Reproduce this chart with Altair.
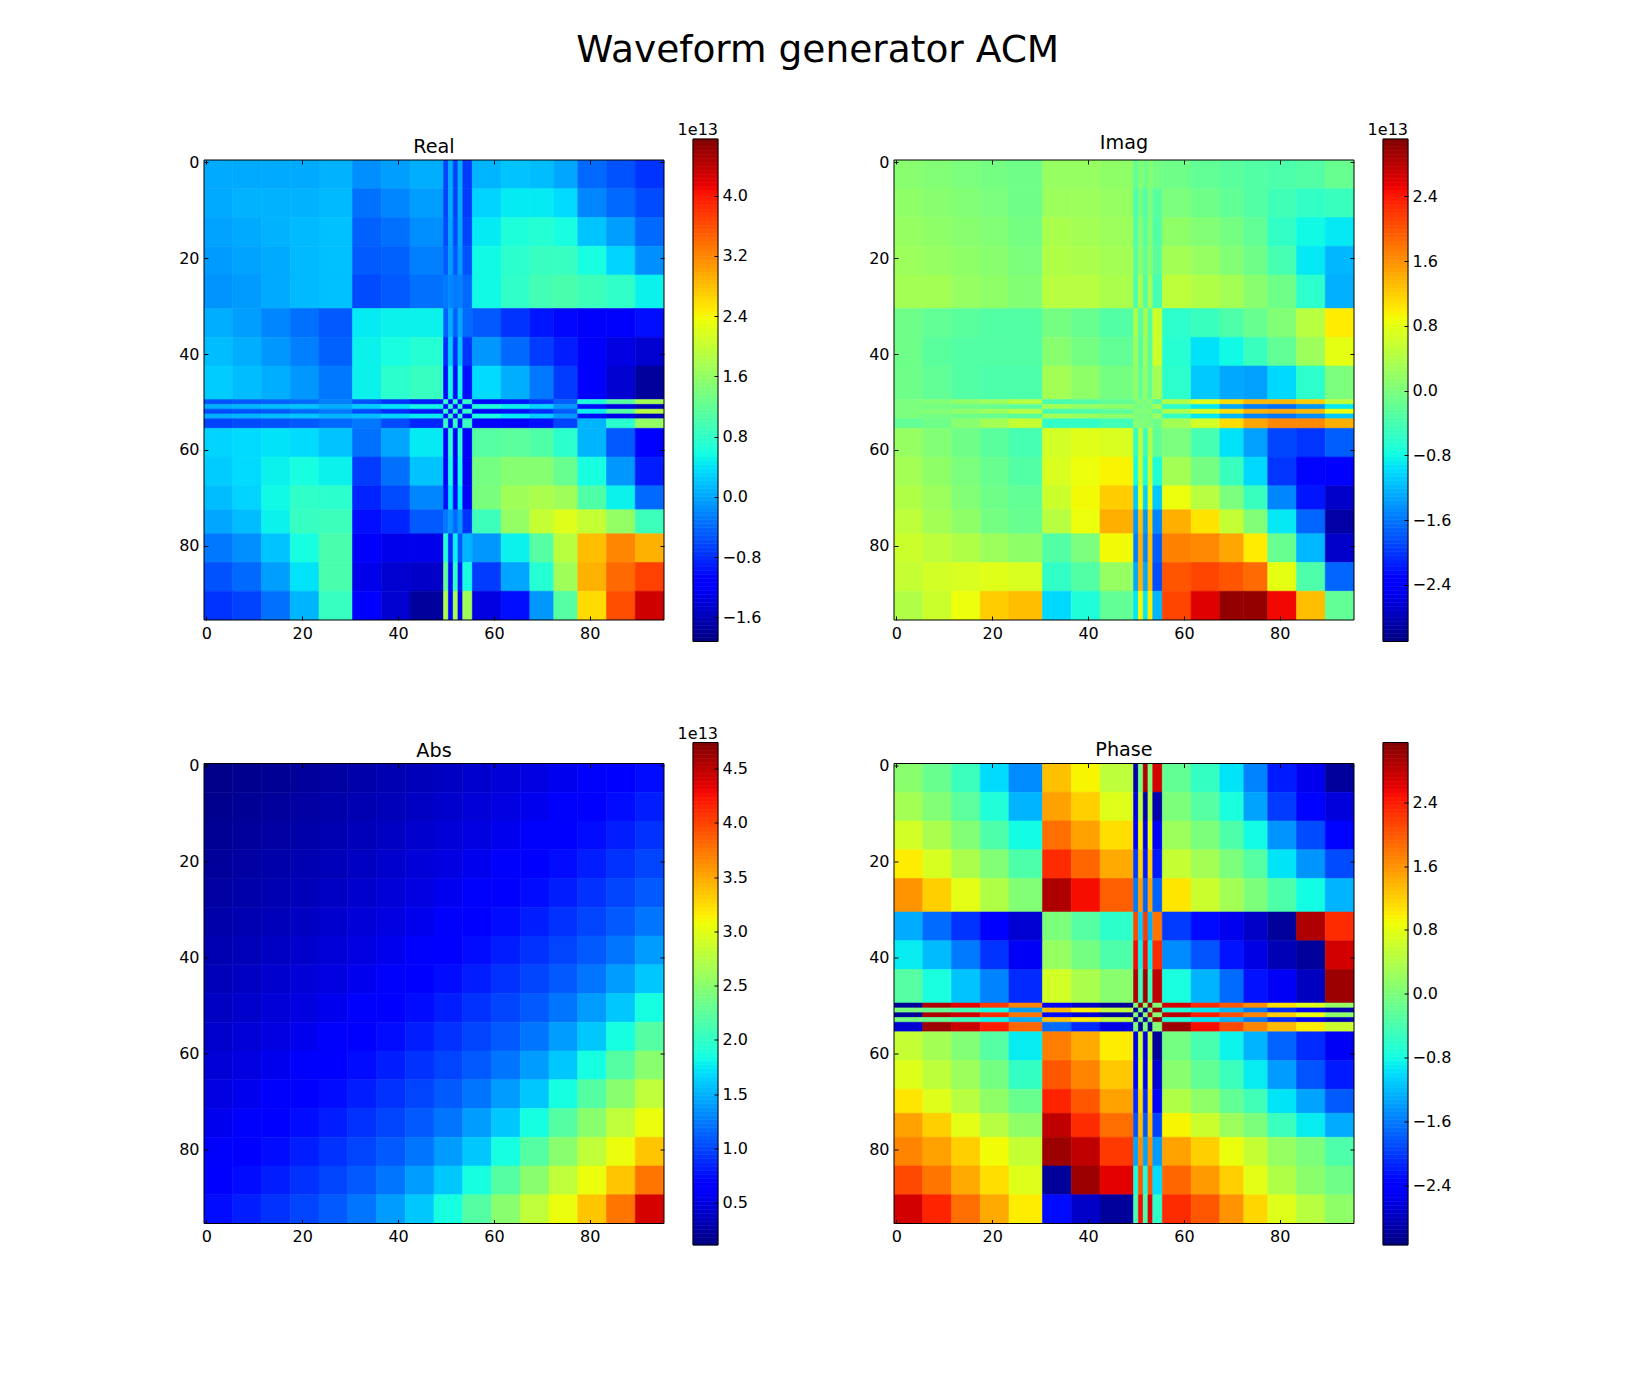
import numpy as np
import altair as alt

TITLE = "Waveform generator ACM"
FONT = "DejaVu Sans"

# cell edges (matrix index space) of the grid the colours were read on
EDGES = [-0.5, 5.5, 11.5, 17.5, 23.5, 30.5, 36.5, 42.5, 49.5, 50.5, 51.5, 52.5, 53.5, 55.5,
         61.5, 67.5, 72.5, 77.5, 83.5, 89.5, 95.5]
ABS_EDGES = [-0.5, 5.5, 11.5, 17.5, 23.5, 29.5, 35.5, 41.5, 47.5, 53.5, 59.5, 65.5, 71.5, 77.5,
             83.5, 89.5, 95.5]

REAL = [
 [.03,.03,.03,.03,.08, -.15,-.05,.05, -.65,.05,-.65,.05,-.7, .1,.2,.15,.0, -.4,-.55,-.75],
 [.03,.08,.08,.08,.13, -.35,-.2,-.05, -.65,.05,-.65,.05,-.7, .3,.45,.45,.35, -.2,-.4,-.6],
 [-.02,.03,.08,.13,.18, -.45,-.35,-.15, -.6,.0,-.6,.0,-.65, .45,.65,.7,.6, .2,-.05,-.4],
 [-.07,-.02,.03,.13,.18, -.5,-.45,-.25, -.5,-.05,-.5,-.05,-.55, .55,.75,.85,.85, .6,.3,-.15],
 [-.12,-.07,.03,.13,.18, -.6,-.5,-.35, -.3,-.2,-.3,-.25,-.4, .55,.8,.95,1.0, .9,.8,.5],
 [.05,-.05,-.2,-.35,-.5, .45,.5,.5, -.45,.05,-.45,.0,-.4, -.5,-.75,-.95,-1.05, -1.2,-1.2,-1.0],
 [.15,.05,-.1,-.25,-.45, .5,.6,.7, -.8,.25,-.8,.2,-.75, -.1,-.4,-.7,-.9, -1.2,-1.35,-1.45],
 [.25,.15,.05,-.1,-.3, .5,.75,.85, -1,.55,-1,.55,-1, .35,.05,-.3,-.7, -1.15,-1.45,-1.75],
 [-.55,-.5,-.45,-.4,-.25, -.55,-.75,-.9, .8,-1,.8,-1,.8, -1.05,-.95,-.75,-.45, .65,1.1,1.75],
 [.05,.1,.15,.2,.05, .25,.4,.55, -1,.8,-1,.8,-1, .65,.5,.3,-.1, -1.0,-1.35,-1.6],
 [-.6,-.55,-.5,-.4,-.3, -.6,-.8,-.95, .8,-1,.8,-1,.8, -1.1,-1,-.8,-.5, .5,1.1,1.9],
 [.05,.1,.15,.2,.1, .15,.3,.45, -1,.8,-1,.8,-1, .6,.45,.25,-.1, -1,-1.3,-1.6],
 [-.65,-.6,-.55,-.5,-.4, -.3,-.6,-.85, .85,-1,.85,-1,.85, -1.15,-1.15,-1.0,-.65, .1,.75,1.6],
 [.3,.35,.4,.35,.2, -.35,.0,.45, -1.1,.75,-1.1,.75,-1.2, 1.1,1.15,1.05,.75, .1,-.5,-1.15],
 [.25,.35,.5,.6,.5, -.7,-.35,.2, -1.15,.6,-1.15,.6,-1.25, 1.35,1.5,1.5,1.25, .6,-.1,-.9],
 [.15,.3,.55,.8,.75, -.85,-.6,-.2, -1.0,.4,-1.0,.45,-1.2, 1.4,1.7,1.8,1.7, 1.05,.5,-.4],
 [.0,.15,.5,.85,.9, -1,-.85,-.5, -.3,-.1,-.4,-.1,-.75, .9,1.6,2.0,2.2, 2.0,1.6,.9],
 [-.3,-.15,.2,.6,1.0, -1.2,-1.3,-1.3, .7,-.8,.5,-.5,.1, -.1,.5,1.1,1.9, 2.8,3.2,2.9],
 [-.55,-.4,-.05,.4,1.0, -1.3,-1.45,-1.5, 1.2,-1,.8,-.9,.6, -.7,.0,.7,1.7, 2.9,3.4,3.7],
 [-.75,-.65,-.35,.1,.85, -1.1,-1.45,-1.75, 1.8,-1.1,1.75,-1.1,1.7, -1.35,-1,-.1,1.1, 2.6,3.6,4.3],
]

IMAG = [
 [.1,.05,0,-.05,-.1, .2,.2,.15, -.2,.05,-.1,.05,-.05, -.1,-.2,-.25,-.3, -.35,-.3,-.15],
 [.15,.1,.05,0,-.1, .25,.25,.2, -.35,-.05,-.3,0,-.25, 0,-.1,-.2,-.3, -.45,-.55,-.5],
 [.2,.15,.1,.05,-.05, .35,.3,.25, -.3,.05,-.25,.05,-.3, .15,.05,-.05,-.2, -.55,-.8,-.9],
 [.25,.2,.15,.1,0, .4,.35,.3, -.25,.1,-.2,.1,-.25, .3,.2,.05,-.1, -.4,-.9,-1.2],
 [.3,.3,.2,.15,.05, .45,.45,.35, -.35,.35,-.3,.3,-.4, .5,.4,.3,.1, -.1,-.6,-1.25],
 [-.1,-.2,-.25,-.3,-.3, -.05,-.15,-.3, .35,-.3,.3,-.25,.6, -.6,-.5,-.35,-.15, .05,.45,1.0],
 [-.1,-.25,-.3,-.3,-.3, .1,-.05,-.2, .25,-.3,.25,-.25,.6, -.65,-.95,-.8,-.5, -.2,.25,.8],
 [-.1,-.2,-.3,-.35,-.35, .3,.15,-.05, .15,-.2,.15,-.2,.3, -.6,-1.1,-1.3,-1.35, -1.0,-.6,.0],
 [0,.05,.15,.25,.45, -.4,-.3,-.2, -.05,.1,-.05,.1,-.3, .4,.75,1.1,1.35, 1.35,1.2,.5],
 [0,-.05,-.1,-.15,-.25, .3,.2,.15, 0,-.05,0,-.05,.3, -.6,-.9,-1.3,-1.55, -1.65,-1.4,-.9],
 [0,.05,.15,.25,.45, -.4,-.35,-.25, 0,.05,0,.1,-.2, .35,.7,1.1,1.4, 1.45,1.35,.85],
 [0,-.05,-.1,-.15,-.25, .3,.25,.15, .05,-.05,0,-.05,.25, -.55,-.9,-1.2,-1.5, -1.6,-1.45,-1.1],
 [-.2,-.1,.1,.3,.55, -.55,-.55,-.45, .1,.0,.05,0,-.1, .3,.65,1.1,1.45, 1.65,1.65,1.4],
 [.2,.05,-.1,-.25,-.4, .65,.75,.7, -.55,.45,-.5,.4,-.2, .0,-.4,-.95,-1.35, -1.9,-2.0,-1.75],
 [.3,.15,.0,-.15,-.3, .7,.85,.95, -.75,.6,-.75,.6,-.7, .3,-.05,-.5,-1.0, -2.0,-2.3,-2.4],
 [.4,.25,.05,-.1,-.2, .6,.9,1.2, -1.1,.85,-1.05,.85,-1.1, .85,.45,.0,-.5, -1.5,-2.2,-2.7],
 [.5,.3,.15,-.05,-.15, .45,.85,1.4, -1.4,1.3,-1.4,1.2,-1.5, 1.4,1.05,.55,.05, -.9,-1.7,-2.9],
 [.6,.5,.4,.25,.15, -.3,.0,.9, -1.55,1.4,-1.5,1.3,-1.75, 1.7,1.65,1.45,1.0, -.15,-1.2,-2.7],
 [.55,.65,.7,.75,.7, -.55,-.3,.2, -1.3,1.4,-1.3,1.3,-1.85, 2.0,2.1,2.0,1.85, .8,-.35,-1.7],
 [.4,.6,.85,1.2,1.3, -1.0,-.7,-.2, -.9,.95,-.9,1.0,-1.2, 2.1,2.6,3.0,3.0, 2.5,1.3,-.2],
]

PHASE = [
 [.1,-.15,-.5,-1.0,-1.5, 1.3,.95,.5, -2.9,.0,2.9,.0,2.7, -.2,-.55,-.95,-1.55, -2.2,-2.55,-3.0],
 [.3,.05,-.25,-.7,-1.25, 1.5,1.2,.75, -2.6,.5,-2.9,.45,-2.9, 0,-.3,-.75,-1.35, -2.0,-2.35,-2.65],
 [.65,.35,.05,-.35,-.8, 1.85,1.5,1.1, -2.4,.95,-2.55,.85,-2.45, .25,0,-.35,-.8, -1.45,-1.9,-2.35],
 [1.0,.7,.35,.05,-.35, 2.3,1.9,1.45, -2.0,1.2,-2.2,1.2,-2.2, .55,.3,.0,-.3, -.95,-1.45,-1.9],
 [1.6,1.2,.8,.4,.05, 2.9,2.5,1.95, -1.6,1.55,-1.75,1.5,-1.75, 1.05,.6,.3,.0, -.35,-.8,-1.25],
 [-1.3,-1.7,-2.05,-2.4,-2.7, .0,-.3,-.6, 2.1,-1.1,2.2,-1.3,1.8, -2,-2.3,-2.55,-2.75, -3.0,2.9,2.3],
 [-.9,-1.2,-1.6,-2.05,-2.5, .2,-.05,-.35, 2.5,-.85,2.5,-.9,2.3, -1.5,-1.85,-2.25,-2.6, -2.85,-3.0,2.7],
 [-.3,-.75,-1.15,-1.55,-2.1, .65,.35,.1, 2.9,-.5,3.0,-.5,2.8, -.75,-1.25,-1.7,-2.25, -2.5,-2.8,3.0],
 [-3.0,2.9,2.6,2.2,1.7, -2.4,-2.75,-3.0, .1,3.0,.1,3.0,.0, 2.7,2.3,2.0,1.65, 1.1,.75,.2],
 [0,-.2,-.45,-.8,-1.4, 1.35,1.0,.5, -3,0,-3,0,3.0, -.7,-.95,-1.25,-1.6, -2.1,-2.5,-2.9],
 [-3.0,2.9,2.7,2.3,1.8, -2.3,-2.65,-2.95, .1,-3,.1,2.9,.05, 2.8,2.4,2.05,1.7, 1.2,.85,.15],
 [0,-.2,-.5,-.85,-1.3, 1.3,1.0,.5, -3,.05,-3,.05,3.0, -.7,-.95,-1.25,-1.6, -2.1,-2.5,-2.85],
 [-2.7,3.0,2.75,2.4,1.9, -1.7,-2.1,-2.6, .05,-3,.05,-3,.05, 3.0,2.5,2.1,1.7, 1.35,1.0,.6],
 [.55,.3,.05,-.3,-.9, 1.75,1.45,1.0, -2.6,.6,-2.6,.55,-3.0, -.05,-.4,-.85,-1.25, -1.75,-2.1,-2.5],
 [.75,.5,.25,-.05,-.55, 2.0,1.7,1.25, -2.45,.85,-2.4,.85,-2.7, .1,-.2,-.5,-.9, -1.4,-1.85,-2.2],
 [1.05,.75,.45,.15,-.15, 2.35,2.0,1.5, -2.1,1.15,-2.1,1.1,-2.35, .4,.15,-.2,-.45, -.95,-1.35,-1.8],
 [1.5,1.2,.8,.45,.15, 2.8,2.3,1.85, -1.85,1.35,-1.8,1.3,-1.95, .95,.6,.25,.0, -.5,-.9,-1.3],
 [1.7,1.5,1.2,.9,.55, 3.0,2.8,2.2, -1.35,1.65,-1.35,1.65,-1.4, 1.5,1.2,.85,.55, .2,.0,-.35],
 [2.1,1.8,1.45,1.1,.75, -3.0,3.0,2.6, -.75,2.0,-.75,2.0,-1.0, 1.9,1.55,1.2,.8, .4,.1,-.1],
 [2.7,2.35,1.85,1.45,1.0, -2.3,-2.75,-3.0, -.4,2.5,-.4,2.6,-.6, 2.3,2.0,1.6,1.15, .75,.45,.15],
]

ABS = [
 [.15,.17,.19,.22,.25,.28,.31,.34,.38,.42,.46,.5,.55,.61,.67,.74],
 [.17,.19,.22,.25,.28,.31,.34,.38,.42,.46,.5,.55,.61,.67,.74,.82],
 [.19,.22,.25,.28,.31,.34,.38,.42,.46,.5,.55,.61,.67,.74,.82,.91],
 [.22,.25,.28,.31,.34,.38,.42,.46,.5,.55,.61,.67,.74,.82,.91,1.0],
 [.25,.28,.31,.34,.38,.42,.46,.5,.55,.61,.67,.74,.82,.91,1.0,1.1],
 [.28,.31,.34,.38,.42,.46,.5,.55,.61,.67,.74,.82,.91,1.0,1.1,1.22],
 [.31,.34,.38,.42,.46,.5,.55,.61,.67,.74,.82,.91,1.0,1.1,1.22,1.4],
 [.34,.38,.42,.46,.5,.55,.61,.67,.74,.82,.91,1.0,1.1,1.22,1.4,1.6],
 [.38,.42,.46,.5,.55,.61,.67,.74,.82,.91,1.0,1.1,1.22,1.4,1.6,1.85],
 [.42,.46,.5,.55,.61,.67,.74,.82,.91,1.0,1.1,1.22,1.4,1.6,1.85,2.2],
 [.46,.5,.55,.61,.67,.74,.82,.91,1.0,1.1,1.22,1.4,1.6,1.85,2.2,2.5],
 [.5,.55,.61,.67,.74,.82,.91,1.0,1.1,1.22,1.4,1.6,1.85,2.2,2.5,2.8],
 [.55,.61,.67,.74,.82,.91,1.0,1.1,1.22,1.4,1.6,1.85,2.2,2.5,2.8,3.05],
 [.61,.67,.74,.82,.91,1.0,1.1,1.22,1.4,1.6,1.85,2.2,2.5,2.8,3.05,3.35],
 [.67,.74,.82,.91,1.0,1.1,1.22,1.4,1.6,1.85,2.2,2.5,2.8,3.05,3.35,3.75],
 [.74,.82,.91,1.0,1.1,1.22,1.4,1.6,1.85,2.2,2.5,2.8,3.05,3.35,3.75,4.4],
]

REAL_TICKS = [-1.6, -0.8, 0.0, 0.8, 1.6, 2.4, 3.2, 4.0]
IMAG_TICKS = [-2.4, -1.6, -0.8, 0.0, 0.8, 1.6, 2.4]
ABS_TICKS = [0.5, 1.0, 1.5, 2.0, 2.5, 3.0, 3.5, 4.0, 4.5]
PHASE_TICKS = [-2.4, -1.6, -0.8, 0.0, 0.8, 1.6, 2.4]
AXIS_TICKS = [0, 20, 40, 60, 80]

# matplotlib "jet" anchor table
JET_POS = [0, .11, .125, .34, .35, .375, .64, .65, .66, .89, .91, 1]
JET_R = ([0, .35, .66, .89, 1], [0, 0, 1, 1, .5])
JET_G = ([0, .125, .375, .64, .91, 1], [0, 0, 1, 1, 0, 0])
JET_B = ([0, .11, .34, .65, 1], [.5, 1, 1, 0, 0])

PW, PH = 460, 460
CB_X = [489, 514]
CB_Y = [481.5, -21]
FS = 16
DOM = [-0.5, 95.5]


def jet_scale(vmin, vmax):
    cols = []
    for p in JET_POS:
        r, g, b = [float(np.interp(p, *c)) for c in (JET_R, JET_G, JET_B)]
        cols.append("#%02x%02x%02x" % (round(r * 255), round(g * 255), round(b * 255)))
    return alt.Scale(domain=[vmin + p * (vmax - vmin) for p in JET_POS], range=cols,
                     interpolate="rgb", clamp=True)


def tick_axis(orient, labels, values=AXIS_TICKS, **kw):
    return alt.Axis(orient=orient, values=values, title=None, grid=False, domain=False,
                    ticks=True, tickSize=4, tickColor="black", tickWidth=1, offset=-4,
                    labels=labels, labelFont=FONT, labelFontSize=FS, labelColor="black",
                    labelPadding=5, labelOverlap=False, labelFlush=False, format="d", zindex=1, **kw)


def panel(name, rows, edges, vmin, vmax, ticks, title_lift, sci):
    cells = [
        dict(x0=edges[j], x1=edges[j + 1], y0=edges[i], y1=edges[i + 1], v=v)
        for i, row in enumerate(rows) for j, v in enumerate(row)
    ]
    cs = jet_scale(vmin, vmax)
    xs = alt.Scale(domain=DOM, nice=False, zero=False)
    ys = alt.Scale(domain=DOM[::-1], nice=False, zero=False)
    heat = alt.Chart(alt.Data(values=cells)).mark_rect(strokeWidth=0.6, clip=True).encode(
        x=alt.X("x0:Q", scale=xs, axis=tick_axis("bottom", True)), x2="x1:Q",
        y=alt.Y("y0:Q", scale=ys, axis=tick_axis("left", True)), y2="y1:Q",
        color=alt.Color("v:Q", scale=cs, legend=None),
        stroke=alt.Stroke("v:Q", scale=cs, legend=None),
    )
    frame = alt.Chart(alt.Data(values=[dict(a=DOM[0], b=DOM[1])])).mark_rect(
        fill=None, stroke="black", strokeWidth=1, fillOpacity=0).encode(
        x=alt.X("a:Q", scale=xs, axis=tick_axis("top", False)), x2="b:Q",
        y=alt.Y("a:Q", scale=ys, axis=tick_axis("right", False)), y2="b:Q",
    )
    lv = np.linspace(vmin, vmax, 129)
    bar_rows = [dict(a=0, b=1, lo=float(lv[i]), hi=float(lv[i + 1]), m=float((lv[i] + lv[i + 1]) / 2))
                for i in range(128)]
    bx = alt.Scale(domain=[0, 1], range=CB_X, nice=False, zero=False)
    by = alt.Scale(domain=[vmin, vmax], range=CB_Y, nice=False, zero=False)
    bar = alt.Chart(alt.Data(values=bar_rows)).mark_rect(strokeWidth=0.6).encode(
        x=alt.X("a:Q", scale=bx, axis=None), x2="b:Q",
        y=alt.Y("lo:Q", scale=by, axis=alt.Axis(
            orient="right", values=ticks, title=None, grid=False, domain=False, tickSize=4,
            tickColor="black", offset=CB_X[1] - PW - 4, labelFont=FONT, labelFontSize=FS,
            labelColor="black", labelPadding=4, labelOverlap=False, labelFlush=False,
            format=".1f", zindex=1)),
        y2="hi:Q",
        color=alt.Color("m:Q", scale=cs, legend=None),
        stroke=alt.Stroke("m:Q", scale=cs, legend=None),
    )
    bar_frame = alt.Chart(alt.Data(values=[dict(a=0, b=1, lo=vmin, hi=vmax)])).mark_rect(
        fill=None, stroke="black", strokeWidth=1, fillOpacity=0).encode(
        x=alt.X("a:Q", scale=bx, axis=None), x2="b:Q",
        y=alt.Y("lo:Q", scale=by, axis=None), y2="hi:Q",
    )
    head = alt.Chart(alt.Data(values=[dict(t=name)])).mark_text(
        font=FONT, fontSize=19.2, color="black", baseline="alphabetic", align="center").encode(
        text="t:N", x=alt.value(PW / 2), y=alt.value(-title_lift))
    layers = [heat, frame, bar, bar_frame, head]
    if sci:
        exp = alt.Chart(alt.Data(values=[dict(t="1e13")])).mark_text(
            font=FONT, fontSize=FS, color="black", baseline="alphabetic", align="right").encode(
            text="t:N", x=alt.value(CB_X[1]), y=alt.value(CB_Y[1] - 4))
        layers.append(exp)
    return alt.layer(*layers).resolve_scale(x="independent", y="independent").properties(
        width=PW, height=PH)


p_real = panel("Real", REAL, EDGES, -1.92, 4.75, REAL_TICKS, 7, True)
p_imag = panel("Imag", IMAG, EDGES, -3.1, 3.11, IMAG_TICKS, 11.5, True)
p_abs = panel("Abs", ABS, ABS_EDGES, 0.11, 4.74, ABS_TICKS, 7, True)
p_phase = panel("Phase", PHASE, EDGES, -3.15, 3.15, PHASE_TICKS, 7.5, False)

chart = alt.concat(
    p_real, p_imag, p_abs, p_phase, columns=2, bounds="flush",
    spacing={"row": 143.5, "column": 230},
).resolve_scale(color="independent", stroke="independent").properties(
    title=alt.TitleParams(TITLE, font=FONT, fontSize=37.5, fontWeight="normal", color="black",
                          anchor="middle", offset=53, dx=3),
    padding={"left": 170, "top": 23, "right": 10, "bottom": 10},
).configure_view(stroke=None)

chart.save("out.html", embed_options={"renderer": "svg", "actions": False})
